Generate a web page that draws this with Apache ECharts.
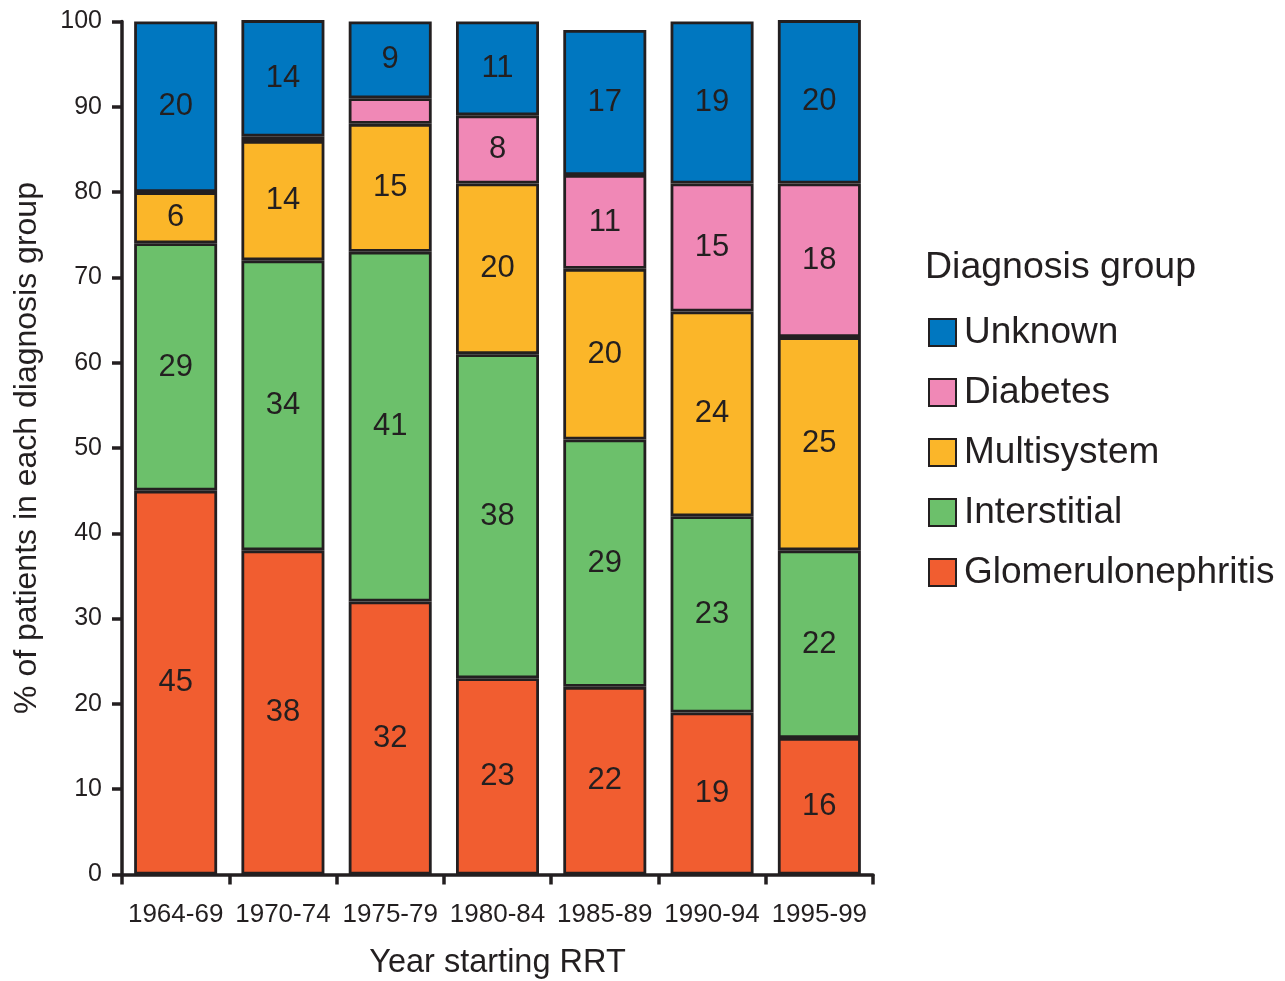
<!DOCTYPE html>
<html>
<head>
<meta charset="utf-8">
<script src="https://cdn.jsdelivr.net/npm/echarts@6/dist/echarts.min.js"></script>
<style>
  html, body { margin: 0; padding: 0; background: #ffffff; }
  #chart { width: 1285px; height: 981px; }
</style>
</head>
<body>
<div id="chart"></div>
<script>
// Diagnosis mix of patients starting renal replacement therapy, by period (%)
const categories = ['1964-69', '1970-74', '1975-79', '1980-84', '1985-89', '1990-94', '1995-99'];
const glomerulonephritis = [45, 38, 32, 23, 22, 19, 16];
const interstitial = [29, 34, 41, 38, 29, 23, 22];
const multisystem = [6, 14, 15, 20, 20, 24, 25];
const diabetes = [null, 0.5, 3, 8, 11, 15, 18];
const unknown = [20, 14, 9, 11, 17, 19, 20];
const yTicks = { min: 0, max: 100, interval: 10 };

const INK = '#231f20';
const FONT = '"Liberation Sans", Arial, Helvetica, sans-serif';

// Bottom-to-top stacking order
const groups = [
  { name: 'Glomerulonephritis', data: glomerulonephritis, color: '#f15d30' },
  { name: 'Interstitial', data: interstitial, color: '#6cc06b' },
  { name: 'Multisystem', data: multisystem, color: '#fbb629' },
  { name: 'Diabetes', data: diabetes, color: '#f088b6' },
  { name: 'Unknown', data: unknown, color: '#0077c0' }
];

const series = groups.map(g => ({
  name: g.name,
  type: 'bar',
  stack: 'total',
  barWidth: 83,
  data: g.data,
  itemStyle: { color: g.color, borderColor: INK, borderWidth: 2.8 },
  label: {
    show: true,
    position: 'inside',
    color: INK,
    fontFamily: FONT,
    fontSize: 31,
    // very thin segments carry no number
    formatter: p => (p.value >= 5 ? String(p.value) : '')
  },
  emphasis: { disabled: true }
}));

const chart = echarts.init(document.getElementById('chart'), null, { renderer: 'canvas' });
chart.setOption({
  backgroundColor: '#ffffff',
  animation: false,
  title: {
    text: 'Diagnosis group',
    left: 925,
    top: 249,
    padding: 0,
    textStyle: { color: INK, fontFamily: FONT, fontSize: 37.5, fontWeight: 'normal' }
  },
  legend: {
    orient: 'vertical',
    left: 928,
    top: 314,
    padding: 0,
    itemWidth: 27,
    itemHeight: 27,
    itemGap: 23,
    icon: 'rect',
    selectedMode: false,
    data: ['Unknown', 'Diabetes', 'Multisystem', 'Interstitial', 'Glomerulonephritis'],
    textStyle: { color: INK, fontFamily: FONT, fontSize: 37, lineHeight: 37, padding: [0, 0, 0, 3] }
  },
  grid: { left: 122, right: 412, top: 21.5, bottom: 106.5, containLabel: false, outerBoundsMode: 'none' },
  xAxis: {
    type: 'category',
    data: categories,
    name: 'Year starting RRT',
    nameLocation: 'middle',
    nameGap: 72,
    nameTextStyle: { color: INK, fontFamily: FONT, fontSize: 32.5 },
    axisLine: { show: true, lineStyle: { color: INK, width: 3.5 } },
    axisTick: { show: true, alignWithLabel: false, length: 10, lineStyle: { color: INK, width: 3.5 } },
    axisLabel: { color: INK, fontFamily: FONT, fontSize: 26, margin: 27, interval: 0 },
    splitLine: { show: false }
  },
  yAxis: {
    type: 'value',
    min: yTicks.min,
    max: yTicks.max,
    interval: yTicks.interval,
    name: '% of patients in each diagnosis group',
    nameLocation: 'middle',
    nameGap: 79,
    nameTextStyle: { color: INK, fontFamily: FONT, fontSize: 32 },
    axisLine: { show: true, lineStyle: { color: INK, width: 3.5 } },
    axisTick: { show: true, length: 10, lineStyle: { color: INK, width: 3.5 } },
    axisLabel: { color: INK, fontFamily: FONT, fontSize: 25, margin: 20 },
    splitLine: { show: false }
  },
  series: series
});
</script>
</body>
</html>
